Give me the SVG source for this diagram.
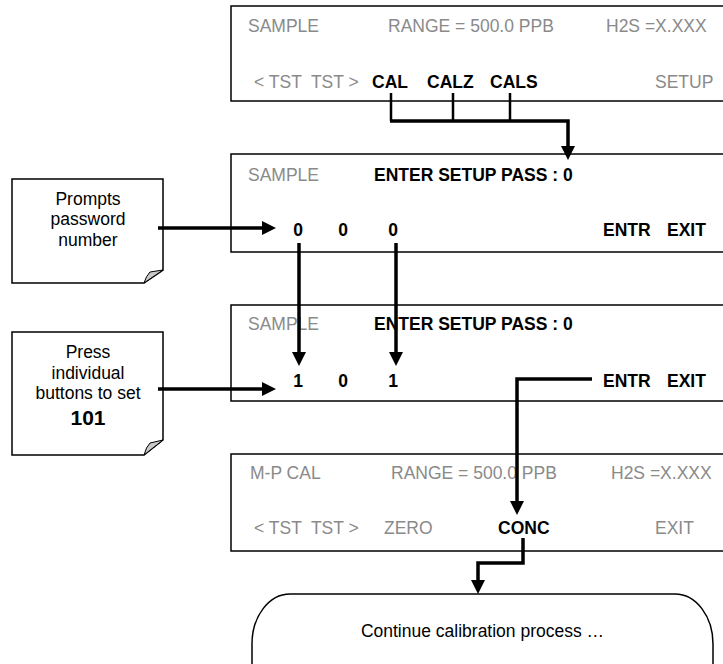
<svg xmlns="http://www.w3.org/2000/svg" width="723" height="664" viewBox="0 0 723 664">
<style>
  text { font-family: "Liberation Sans", Arial, sans-serif; font-size: 17.5px; }
  .g { fill: #8a8a8a; }
  .b { fill: #000; font-weight: bold; }
  .k { fill: #000; }
  .pre { white-space: pre; }
  .panel { fill: #fff; stroke: #000; stroke-width: 1.5; }
  .note { fill: #fff; stroke: #000; stroke-width: 1.5; }
  .fold { fill: #c8c8c8; stroke: #000; stroke-width: 1; }
  .c { fill: none; stroke: #000; stroke-width: 3.5; stroke-linejoin: miter; }
  .t { fill: none; stroke: #000; stroke-width: 2.5; }
  .mid { text-anchor: middle; }
</style>
<defs>
  <marker id="ah" viewBox="0 0 14 14" refX="2" refY="7" markerWidth="14" markerHeight="14" markerUnits="userSpaceOnUse" orient="auto">
    <path d="M0,0 L14,7 L0,14 Z" fill="#000"/>
  </marker>
</defs>

<g id="panel1">
  <rect class="panel" x="231" y="6" width="500" height="95"/>
  <text class="g" x="248" y="32">SAMPLE</text>
  <text class="g" x="388" y="32">RANGE = 500.0 PPB</text>
  <text class="g" x="606" y="32">H2S =X.XXX</text>
  <text class="g pre" x="254" y="88">&lt; TST  TST &gt;</text>
  <text class="b" x="372" y="88">CAL</text>
  <text class="b" x="427" y="88">CALZ</text>
  <text class="b" x="490" y="88">CALS</text>
  <text class="g" x="655" y="88">SETUP</text>
</g>

<g id="panel2">
  <rect class="panel" x="231" y="154" width="500" height="98"/>
  <text class="g" x="248" y="181">SAMPLE</text>
  <text class="b" x="374" y="181">ENTER SETUP PASS : 0</text>
  <text class="b mid" x="298" y="236">0</text>
  <text class="b mid" x="343" y="236">0</text>
  <text class="b mid" x="393" y="236">0</text>
  <text class="b" x="603" y="236">ENTR</text>
  <text class="b" x="667" y="236">EXIT</text>
</g>

<g id="panel3">
  <rect class="panel" x="231" y="305" width="500" height="96"/>
  <text class="g" x="248" y="330">SAMPLE</text>
  <text class="b" x="374" y="330">ENTER SETUP PASS : 0</text>
  <text class="b mid" x="298" y="387">1</text>
  <text class="b mid" x="343" y="387">0</text>
  <text class="b mid" x="393" y="387">1</text>
  <text class="b" x="603" y="387">ENTR</text>
  <text class="b" x="667" y="387">EXIT</text>
</g>

<g id="panel4">
  <rect class="panel" x="231" y="454" width="500" height="97"/>
  <text class="g" x="250" y="479">M-P CAL</text>
  <text class="g" x="391" y="479">RANGE = 500.0 PPB</text>
  <text class="g" x="611" y="479">H2S =X.XXX</text>
  <text class="g pre" x="254" y="534">&lt; TST  TST &gt;</text>
  <text class="g" x="384" y="534">ZERO</text>
  <text class="b" x="498" y="534">CONC</text>
  <text class="g" x="655" y="534">EXIT</text>
</g>

<g id="note1">
  <path class="note" d="M12,179 H163 V270 L144,283 H12 Z"/>
  <path class="fold" d="M144,283 Q146,276 150,272 L163,270 Z"/>
  <text class="k mid" x="88" y="205">Prompts</text>
  <text class="k mid" x="88" y="225">password</text>
  <text class="k mid" x="88" y="246">number</text>
</g>

<g id="note2">
  <path class="note" d="M12,332 H163 V440 L144,455 H12 Z"/>
  <path class="fold" d="M144,455 Q146,447 150,443 L163,440 Z"/>
  <text class="k mid" x="88" y="358">Press</text>
  <text class="k mid" x="88" y="379">individual</text>
  <text class="k mid" x="88" y="399">buttons to set</text>
  <text class="b mid" x="88" y="425" style="font-size:21px">101</text>
</g>

<g id="terminator">
  <rect x="252" y="594" width="461" height="130" rx="38" ry="50" fill="#fff" stroke="#000" stroke-width="1.5"/>
  <text class="k mid" x="482.5" y="637">Continue calibration process …</text>
</g>

<g id="connectors">
  <path class="t" d="M391,93 V121 M453,93 V121 M510,93 V121"/>
  <path class="c" d="M390,121 H568 V148" marker-end="url(#ah)"/>
  <path class="c" d="M158,228 H264" marker-end="url(#ah)"/>
  <path class="c" d="M158,389 H264" marker-end="url(#ah)"/>
  <path class="c" d="M299,243 V354" marker-end="url(#ah)"/>
  <path class="c" d="M396,243 V354" marker-end="url(#ah)"/>
  <path class="c" d="M592,379 H517 V503" marker-end="url(#ah)"/>
  <path class="c" d="M523,538 V563 H478 V582" marker-end="url(#ah)"/>
</g>
</svg>
